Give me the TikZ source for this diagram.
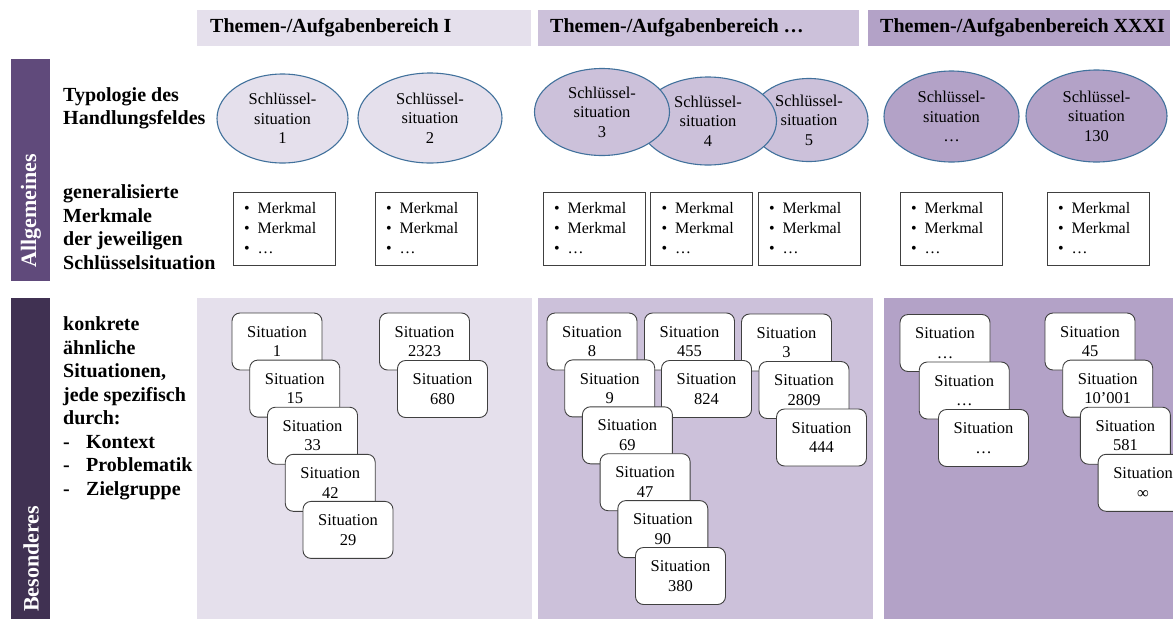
\documentclass[tikz,border=0pt]{standalone}
\usepackage{fontspec}
\setmainfont{Liberation Serif}
\usetikzlibrary{shapes.geometric}
\definecolor{bereichA}{HTML}{E5E0EC}
\definecolor{bereichB}{HTML}{CCC1DA}
\definecolor{bereichC}{HTML}{B3A2C7}
\definecolor{allg}{HTML}{604A7B}
\definecolor{bes}{HTML}{403152}
\definecolor{rand}{HTML}{41719C}
\begin{document}
\begin{tikzpicture}[x=1pt,y=-1pt,
    kopf/.style={anchor=west,inner sep=0pt,font=\fontsize{20}{24}\selectfont\bfseries},
    seite/.style={rotate=90,anchor=west,inner sep=0pt,text=white,font=\fontsize{22}{26}\selectfont\bfseries},
    zeile/.style={anchor=west,align=left,inner sep=0pt,font=\fontsize{20}{23.5}\selectfont\bfseries},
    typ/.style={ellipse,draw=rand,line width=1.1pt,align=center,inner sep=0pt,font=\fontsize{16.5}{19.5}\selectfont},
    merk/.style={draw=black!75,line width=0.9pt,fill=white,text width=80pt,inner xsep=11pt,minimum height=73pt,align=left,font=\fontsize{16}{20}\selectfont},
    sit/.style={draw=black!75,line width=0.9pt,fill=white,rounded corners=8pt,minimum width=90pt,minimum height=57pt,align=center,inner sep=0pt,font=\fontsize{16.5}{19.5}\selectfont}]
    \useasboundingbox (0,0) rectangle (1173,619);
    \clip (0,0) rectangle (1173,619);
    \fill[bereichA] (197,10) rectangle (531,46);
    \fill[bereichB] (538,10) rectangle (859,46);
    \fill[bereichC] (868,10) rectangle (1170,46);
    \fill[bereichA] (197,298) rectangle (532,619);
    \fill[bereichB] (538,298) rectangle (873,619);
    \fill[bereichC] (884,298) rectangle (1173,619);
    \fill[allg] (10.5,59) rectangle (50,281);
    \fill[bes] (10.5,298) rectangle (50,619);
    \node[kopf] (kopf1) at (210,28) {Themen-/Aufgabenbereich I};
    \node[kopf] (kopf2) at (550,28) {Themen-/Aufgabenbereich …};
    \node[kopf] (kopf3) at (880,28) {Themen-/Aufgabenbereich XXXI};
    \node[seite] (allg) at (31,268) {Allgemeines};
    \node[seite] (bes) at (31,612) {Besonderes};
    \node[zeile] (typologie) at (63,108.5) {Typologie des\\Handlungsfeldes};
    \node[zeile] (merkmale) at (63,227) {generalisierte\\Merkmale\\der jeweiligen\\Schlüsselsituation};
    \node[zeile] (konkret) at (63,408.5) {konkrete\\ähnliche\\Situationen,\\jede spezifisch\\durch:\\
        \makebox[23pt][l]{-}Kontext\\\makebox[23pt][l]{-}Problematik\\\makebox[23pt][l]{-}Zielgruppe};
    \foreach \x/\y/\w/\h/\c/\n in {282.5/118.5/131/89/bereichA/1,430/118/144/90/bereichA/2,
        809/120/118/83/bereichB/5,708/121/137/88/bereichB/4,602/112/135/87/bereichB/3,
        951.5/116.5/135/91/bereichC/…,1096.5/116/141/92/bereichC/130}
    \node[typ,fill=\c,minimum width=\w,minimum height=\h] (typ-\n) at (\x,\y) {Schlüssel-\\situation\\\n};
    \foreach \x [count=\i] in {284,426,594,701.5,809,951,1098}
    \node[merk] (merk\i) at (\x,228.5) {\textbullet\hspace{8pt}Merkmal\\\textbullet\hspace{8pt}Merkmal\\\textbullet\hspace{8pt}…};
    \foreach \n [count=\i from 0] in {1,15,33,42,29}
    \node[sit] (sitA-\i) at (277+17.75*\i,341.5+47.1*\i) {Situation\\\n};
    \foreach \n [count=\i from 0] in {2323,680}
    \node[sit] (sitB-\i) at (424.5+18*\i,341.5+47.5*\i) {Situation\\\n};
    \foreach \n [count=\i from 0] in {3,2809,444}
    \node[sit] (sitE-\i) at (786.5+17.5*\i,342.5+47.5*\i) {Situation\\\n};
    \foreach \n [count=\i from 0] in {455,824}
    \node[sit] (sitD-\i) at (689.5+17*\i,341.5+47.5*\i) {Situation\\\n};
    \foreach \n [count=\i from 0] in {8,9,69,47,90,380}
    \node[sit] (sitC-\i) at (592+17.7*\i,341.5+46.9*\i) {Situation\\\n};
    \foreach \n [count=\i from 0] in {…,…,…}
    \node[sit] (sitF-\i) at (945+19.25*\i,343+47.5*\i) {Situation\\\n};
    \foreach \n [count=\i from 0] in {45,10’001,581,∞}
    \node[sit] (sitG-\i) at (1090+17.7*\i,341.5+47.1*\i) {Situation\\\n};
\end{tikzpicture}
\end{document}
